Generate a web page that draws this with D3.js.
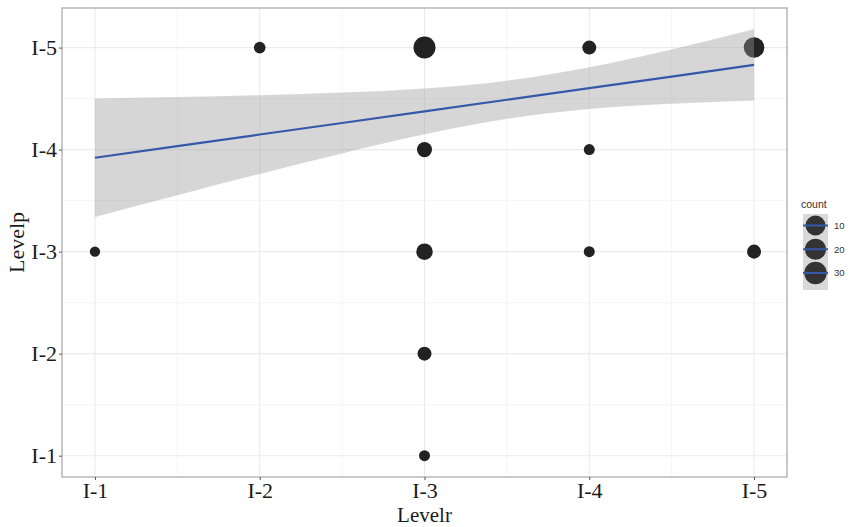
<!DOCTYPE html>
<meta charset="utf-8">
<script src="https://d3js.org/d3.v7.min.js"></script>
<style>
body { margin: 0; background: #fff; }
.axis .domain { display: none; }
.axis line { stroke: #555; stroke-width: 1; }
.axis text { font-family: "Liberation Serif", "DejaVu Serif", serif; font-size: 22px; fill: #1a1a1a; }
</style>
<body>
<div id="canvas"></div>
<script>
// levels on both axes
var levels = ["I-1", "I-2", "I-3", "I-4", "I-5"];

// counted points (Levelr, Levelp, count)
var pointX     = [1, 2, 3, 3, 3, 3, 3, 4, 4, 4, 5, 5];
var pointY     = [3, 5, 5, 4, 3, 2, 1, 5, 4, 3, 5, 3];
var pointCount = [7, 9, 32, 15, 18, 13, 8, 13, 8, 8, 28, 13];

// smooth line and its band
var fitX     = [1, 1.5, 2, 2.5, 3, 3.5, 4, 4.5, 5];
var fitY     = [3.92, 4.034, 4.148, 4.261, 4.375, 4.489, 4.603, 4.716, 4.83];
var fitLower = [3.34, 3.553, 3.762, 3.963, 4.15, 4.302, 4.399, 4.45, 4.481];
var fitUpper = [4.50, 4.515, 4.534, 4.559, 4.60, 4.676, 4.807, 4.982, 5.179];

var legendBreaks = [10, 20, 30];

var width = 851, height = 527;
var panel = {left: 62, right: 787, top: 8, bottom: 477};

var svg = d3.select("#canvas").append("svg")
    .attr("width", width)
    .attr("height", height);

var x = d3.scaleLinear().domain([0.8, 5.2]).range([panel.left, panel.right]);
var y = d3.scaleLinear().domain([0.791, 5.388]).range([panel.bottom, panel.top]);
var r = d3.scaleSqrt().domain([0, 32]).range([0, 11]);

// panel background + grid
svg.append("rect")
    .attr("x", panel.left).attr("y", panel.top)
    .attr("width", panel.right - panel.left).attr("height", panel.bottom - panel.top)
    .attr("fill", "#fff");

var minor = [1.5, 2.5, 3.5, 4.5], major = [1, 2, 3, 4, 5];
var grid = svg.append("g");
grid.selectAll(".vminor").data(minor).enter().append("line")
    .attr("x1", d => x(d)).attr("x2", d => x(d))
    .attr("y1", panel.top).attr("y2", panel.bottom)
    .attr("stroke", "#f3f3f3").attr("stroke-width", 0.8);
grid.selectAll(".hminor").data(minor).enter().append("line")
    .attr("y1", d => y(d)).attr("y2", d => y(d))
    .attr("x1", panel.left).attr("x2", panel.right)
    .attr("stroke", "#f3f3f3").attr("stroke-width", 0.8);
grid.selectAll(".vmajor").data(major).enter().append("line")
    .attr("x1", d => x(d)).attr("x2", d => x(d))
    .attr("y1", panel.top).attr("y2", panel.bottom)
    .attr("stroke", "#ebebeb").attr("stroke-width", 1.1);
grid.selectAll(".hmajor").data(major).enter().append("line")
    .attr("y1", d => y(d)).attr("y2", d => y(d))
    .attr("x1", panel.left).attr("x2", panel.right)
    .attr("stroke", "#ebebeb").attr("stroke-width", 1.1);

// points
var points = pointX.map(function(d, i) { return {x: d, y: pointY[i], n: pointCount[i]}; });
svg.append("g").selectAll("circle")
    .data(points).enter().append("circle")
    .attr("cx", d => x(d.x))
    .attr("cy", d => y(d.y))
    .attr("r", d => r(d.n))
    .attr("fill", "#222");

// confidence band (drawn over points like ggplot)
var fit = fitX.map(function(d, i) { return {x: d, y: fitY[i], lo: fitLower[i], hi: fitUpper[i]}; });
svg.append("path")
    .datum(fit)
    .attr("d", d3.area().curve(d3.curveMonotoneX)
        .x(d => x(d.x)).y0(d => y(d.lo)).y1(d => y(d.hi)))
    .attr("fill", "#999").attr("fill-opacity", 0.4);

svg.append("path")
    .datum(fit)
    .attr("d", d3.line().x(d => x(d.x)).y(d => y(d.y)))
    .attr("fill", "none").attr("stroke", "#3559a8").attr("stroke-width", 2.2);

// panel border
svg.append("rect")
    .attr("x", panel.left).attr("y", panel.top)
    .attr("width", panel.right - panel.left).attr("height", panel.bottom - panel.top)
    .attr("fill", "none").attr("stroke", "#b3b3b3").attr("stroke-width", 1.4);

// axes
svg.append("g")
    .attr("class", "axis")
    .attr("transform", "translate(0," + panel.bottom + ")")
    .call(d3.axisBottom(x).tickValues(major).tickFormat(d => levels[d - 1]).tickSize(3).tickPadding(2));
svg.append("g")
    .attr("class", "axis")
    .attr("transform", "translate(" + panel.left + ",0)")
    .call(d3.axisLeft(y).tickValues(major).tickFormat(d => levels[d - 1]).tickSize(3).tickPadding(2));

// axis titles
svg.append("text")
    .attr("x", (panel.left + panel.right) / 2).attr("y", 522)
    .attr("text-anchor", "middle")
    .style("font-family", "Liberation Serif, serif").style("font-size", "21px").attr("fill", "#1a1a1a")
    .text("Levelr");
svg.append("text")
    .attr("transform", "translate(24," + ((panel.top + panel.bottom) / 2) + ") rotate(-90)")
    .attr("text-anchor", "middle")
    .style("font-family", "Liberation Serif, serif").style("font-size", "22px").attr("fill", "#1a1a1a")
    .text("Levelp");

// legend
var lg = svg.append("g");
var legY = d3.scalePoint().domain(legendBreaks).range([225.5, 273]);
var legR = d3.scaleLinear().domain([10, 30]).range([10, 11.2]);
lg.append("text")
    .attr("x", 801).attr("y", 208)
    .style("font-family", "Liberation Sans, Arial, sans-serif").style("font-size", "10.5px").attr("fill", "#333")
    .text("count");
lg.append("rect")
    .attr("x", 803).attr("y", 214).attr("width", 25).attr("height", 76)
    .attr("fill", "#d9d9d9");
var keys = lg.selectAll(".key").data(legendBreaks).enter().append("g");
keys.append("circle")
    .attr("cx", 815.5).attr("cy", d => legY(d)).attr("r", d => legR(d))
    .attr("fill", "#333");
keys.append("line")
    .attr("x1", 803).attr("x2", 828)
    .attr("y1", d => legY(d)).attr("y2", d => legY(d))
    .attr("stroke", "#3559a8").attr("stroke-width", 2);
keys.append("text")
    .attr("x", 834).attr("y", d => legY(d)).attr("dy", "0.35em")
    .style("font-family", "Liberation Sans, Arial, sans-serif").style("font-size", "9.5px").attr("fill", "#333")
    .text(d => d);
</script>
</body>
